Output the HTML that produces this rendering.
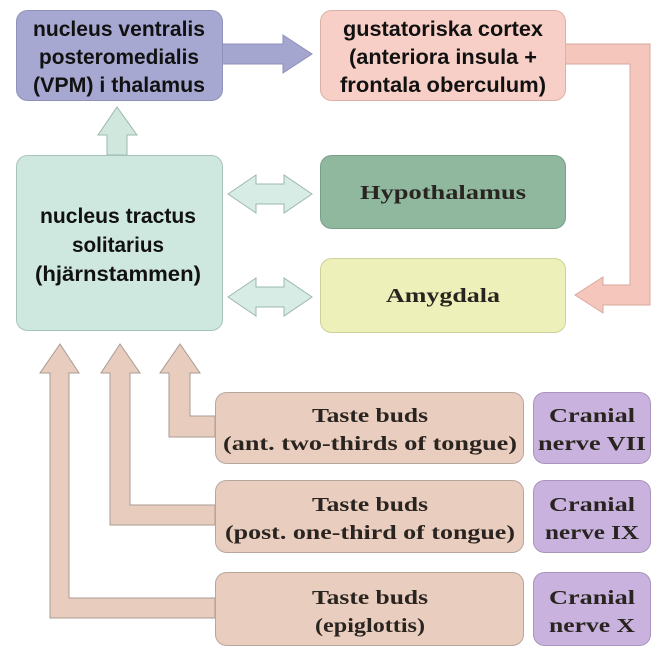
<!DOCTYPE html>
<html><head><meta charset="utf-8"><style>
html,body{margin:0;padding:0;background:#fff;width:663px;height:660px;overflow:hidden}
.s{font-family:"Liberation Sans",sans-serif;font-weight:bold;font-size:21px;fill:#111;text-anchor:middle}
.r{font-family:"Liberation Serif",serif;font-weight:bold;font-size:20px;fill:#2a2420;text-anchor:middle}
</style></head><body>
<svg width="663" height="660" viewBox="0 0 663 660" xmlns="http://www.w3.org/2000/svg">
<!-- arrows -->
<polygon points="222,44 283,44 283,35 312,54 283,73 283,64 222,64" fill="#a4a6d0" stroke="#8e8fb8" stroke-width="1"/>
<polygon points="565,44 650,44 650,305 603,305 603,313 575,295 603,277 603,285 630,285 630,64 565,64" fill="#f4c6bc" stroke="#d9a89e" stroke-width="1"/>
<polygon points="107,155 107,135 98,135 117,107 137,135 127,135 127,155" fill="#cfe7dd" stroke="#9cb8ad" stroke-width="1"/>
<polygon points="228,194 256,175 256,184 284,184 284,175 312,194 284,213 284,204 256,204 256,213" fill="#d6ece4" stroke="#9cb8ad" stroke-width="1"/>
<polygon points="228,297 256,278 256,287 284,287 284,278 312,297 284,316 284,307 256,307 256,316" fill="#d6ece4" stroke="#9cb8ad" stroke-width="1"/>
<polygon points="215,598 69,598 69,373 79,373 60,344 40,373 50,373 50,618 215,618" fill="#e8cdbf" stroke="#a89a92" stroke-width="1"/>
<polygon points="215,505 130,505 130,373 140,373 120,344 101,373 110,373 110,525 215,525" fill="#e8cdbf" stroke="#a89a92" stroke-width="1"/>
<polygon points="215,416 190,416 190,373 200,373 180,344 160,373 169,373 169,437 215,437" fill="#e8cdbf" stroke="#a89a92" stroke-width="1"/>
<!-- boxes -->
<rect x="16.5" y="10.5" width="206" height="90" rx="11" fill="#a6a8d2" stroke="#9091bb"/>
<rect x="320.5" y="10.5" width="245" height="90" rx="11" fill="#f7cfc6" stroke="#dcb0a6"/>
<rect x="16.5" y="155.5" width="206" height="175" rx="11" fill="#cee8df" stroke="#a8c4ba"/>
<rect x="320.5" y="155.5" width="245" height="73" rx="11" fill="#8fb89f" stroke="#7a9e88"/>
<rect x="320.5" y="258.5" width="245" height="74" rx="11" fill="#eef0b9" stroke="#cfd19a"/>
<rect x="215.5" y="392.5" width="308" height="71" rx="11" fill="#e9cdbf" stroke="#b8a69c"/>
<rect x="215.5" y="480.5" width="308" height="72" rx="11" fill="#e9cdbf" stroke="#b8a69c"/>
<rect x="215.5" y="572.5" width="308" height="73" rx="11" fill="#e9cdbf" stroke="#b8a69c"/>
<rect x="533.5" y="392.5" width="117" height="71" rx="11" fill="#c9b3de" stroke="#a896bb"/>
<rect x="533.5" y="480.5" width="117" height="72" rx="11" fill="#c9b3de" stroke="#a896bb"/>
<rect x="533.5" y="572.5" width="117" height="73" rx="11" fill="#c9b3de" stroke="#a896bb"/>
<!-- text -->
<text class="s" x="119" y="36" textLength="172" lengthAdjust="spacingAndGlyphs">nucleus ventralis</text>
<text class="s" x="119" y="64" textLength="160" lengthAdjust="spacingAndGlyphs">posteromedialis</text>
<text class="s" x="119" y="92" textLength="172" lengthAdjust="spacingAndGlyphs">(VPM) i thalamus</text>
<text class="s" x="443" y="36" textLength="200" lengthAdjust="spacingAndGlyphs">gustatoriska cortex</text>
<text class="s" x="443" y="64" textLength="188" lengthAdjust="spacingAndGlyphs">(anteriora insula +</text>
<text class="s" x="443" y="92" textLength="206" lengthAdjust="spacingAndGlyphs">frontala oberculum)</text>
<text class="s" x="118" y="223" textLength="156" lengthAdjust="spacingAndGlyphs">nucleus tractus</text>
<text class="s" x="118" y="252" textLength="92" lengthAdjust="spacingAndGlyphs">solitarius</text>
<text class="s" x="118" y="281" textLength="166" lengthAdjust="spacingAndGlyphs">(hjärnstammen)</text>
<text class="r" x="443" y="199" textLength="166" lengthAdjust="spacingAndGlyphs" fill="#26342b">Hypothalamus</text>
<text class="r" x="443" y="302" textLength="114" lengthAdjust="spacingAndGlyphs">Amygdala</text>
<text class="r" x="370" y="422" textLength="116" lengthAdjust="spacingAndGlyphs">Taste buds</text>
<text class="r" x="370" y="450" textLength="294" lengthAdjust="spacingAndGlyphs">(ant. two-thirds of tongue)</text>
<text class="r" x="370" y="511" textLength="116" lengthAdjust="spacingAndGlyphs">Taste buds</text>
<text class="r" x="370" y="539" textLength="290" lengthAdjust="spacingAndGlyphs">(post. one-third of tongue)</text>
<text class="r" x="370" y="604" textLength="116" lengthAdjust="spacingAndGlyphs">Taste buds</text>
<text class="r" x="370" y="632" textLength="110" lengthAdjust="spacingAndGlyphs">(epiglottis)</text>
<text class="r" x="592" y="422" textLength="86" lengthAdjust="spacingAndGlyphs">Cranial</text>
<text class="r" x="592" y="450" textLength="108" lengthAdjust="spacingAndGlyphs">nerve VII</text>
<text class="r" x="592" y="511" textLength="86" lengthAdjust="spacingAndGlyphs">Cranial</text>
<text class="r" x="592" y="539" textLength="94" lengthAdjust="spacingAndGlyphs">nerve IX</text>
<text class="r" x="592" y="604" textLength="86" lengthAdjust="spacingAndGlyphs">Cranial</text>
<text class="r" x="592" y="632" textLength="86" lengthAdjust="spacingAndGlyphs">nerve X</text>
</svg>
</body></html>
